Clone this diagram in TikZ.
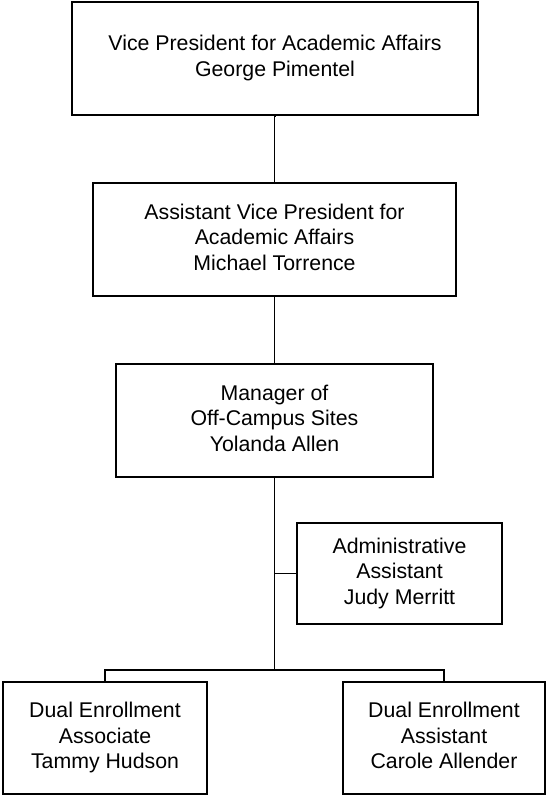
\documentclass[tikz,border=0pt]{standalone}
\usepackage{fontspec}
\setmainfont{Liberation Sans}
\begin{document}
\begin{tikzpicture}[x=1pt,y=1pt,
  orgbox/.style={draw=black, line width=1.8pt, fill=white, inner sep=0pt, align=center,
    font=\fontsize{21.3}{25.5}\selectfont},
  link/.style={draw=black, line width=1.9pt}]
\useasboundingbox (0,0) rectangle (546,-796);
\node[orgbox, minimum width=406, minimum height=113] (vp) at (275,-58.5)
  {\strut Vice President for Academic Affairs\\George Pimentel\strut};
\node[orgbox, minimum width=363, minimum height=113] (avp) at (274.5,-239.5)
  {\strut Assistant Vice President for\\Academic Affairs\\Michael Torrence\strut};
\node[orgbox, minimum width=317, minimum height=113] (mgr) at (274.5,-420.5)
  {\strut Manager of\\Off-Campus Sites\\Yolanda Allen\strut};
\node[orgbox, minimum width=205, minimum height=101] (adm) at (399.5,-573.5)
  {\strut Administrative\\Assistant\\Judy Merritt\strut};
\node[orgbox, minimum width=204, minimum height=112] (dea) at (105,-738)
  {\strut Dual Enrollment\\Associate\\Tammy Hudson\strut};
\node[orgbox, minimum width=202, minimum height=112] (des) at (444,-738)
  {\strut Dual Enrollment\\Assistant\\Carole Allender\strut};
\coordinate (barlevel) at (0,-670);
\draw[link] (vp.south) -- (avp.south |- vp.south) -- (avp.north);
\draw[link] (avp.south) -- (mgr.north);
\draw[link] (mgr.south) -- (mgr.south |- barlevel);
\draw[link] (adm.west) -- (adm.west -| mgr.south);
\draw[link] (dea.north) -- (dea.north |- barlevel) -| (des.north);
\end{tikzpicture}
\end{document}
